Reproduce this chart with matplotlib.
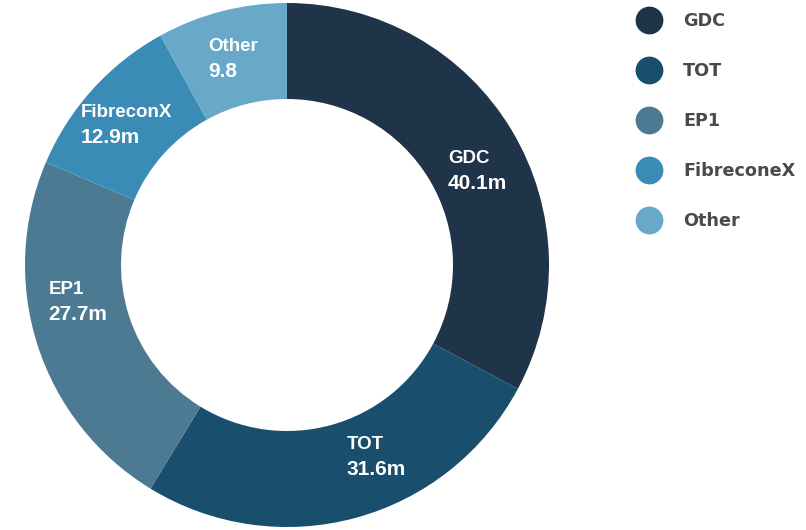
import matplotlib
matplotlib.use("Agg")
import matplotlib.pyplot as plt
from matplotlib.lines import Line2D
from matplotlib.offsetbox import TextArea, VPacker, AnnotationBbox
import numpy as np

plt.rcParams['font.family'] = ['Liberation Sans', 'DejaVu Sans']

categories = ["GDC", "TOT", "EP1", "FibreconX", "Other"]
legend_names = ["GDC", "TOT", "EP1", "FibreconeX", "Other"]
values = [40.1, 31.6, 27.7, 12.9, 9.8]
value_labels = ["40.1m", "31.6m", "27.7m", "12.9m", "9.8"]
colors = ["#1f3349", "#1a4e6d", "#4b7a92", "#3a8bb6", "#68a8c8"]

# label placement tweaks (degrees relative to slice middle)
label_angle_shift = [-4.7, 9.7, -7.6, 1.1, 0.3]
label_radius = 0.81

fig = plt.figure(figsize=(8.06, 5.30), dpi=100)
ax = fig.add_axes([25/806, 3/530, 524/806, 524/530])

width = 1 - 166/262
wedges, _ = ax.pie(values, colors=colors, startangle=90, counterclock=False,
                   radius=1, wedgeprops=dict(width=width, edgecolor='none'))
ax.set_xlim(-1, 1)
ax.set_ylim(-1, 1)
ax.set_aspect('equal')
ax.axis('off')

total = sum(values)
start = 90.0
for name, vl, v, sh in zip(categories, value_labels, values, label_angle_shift):
    span = v / total * 360
    mid = np.deg2rad(start - span / 2 + sh)
    start -= span
    cx, cy = label_radius * np.cos(mid), label_radius * np.sin(mid)
    t1 = TextArea(name, textprops=dict(color='white', fontsize=13.5,
                                       fontweight='bold', family='Liberation Sans'))
    t2 = TextArea(vl, textprops=dict(color='white', fontsize=15,
                                     fontweight='bold', family='Liberation Sans'))
    box = VPacker(children=[t1, t2], align='left', pad=0, sep=5.3)
    ab = AnnotationBbox(box, (cx, cy), frameon=False, box_alignment=(0.5, 0.5),
                        pad=0)
    ax.add_artist(ab)

handles = [Line2D([0], [0], marker='o', linestyle='none', markersize=20,
                  markerfacecolor=c, markeredgecolor='none') for c in colors]
leg = fig.legend(handles, legend_names, loc='upper left',
                 bbox_to_anchor=(638.5/806, 1 - 12/530), frameon=False,
                 prop=dict(size=12.7, weight='bold', family='DejaVu Sans'),
                 labelspacing=1.81, handletextpad=1.34, handlelength=1.2,
                 borderaxespad=0, borderpad=0)
for t in leg.get_texts():
    t.set_color('#4a4a4a')

fig.savefig("out.png", dpi=100, facecolor='white')
